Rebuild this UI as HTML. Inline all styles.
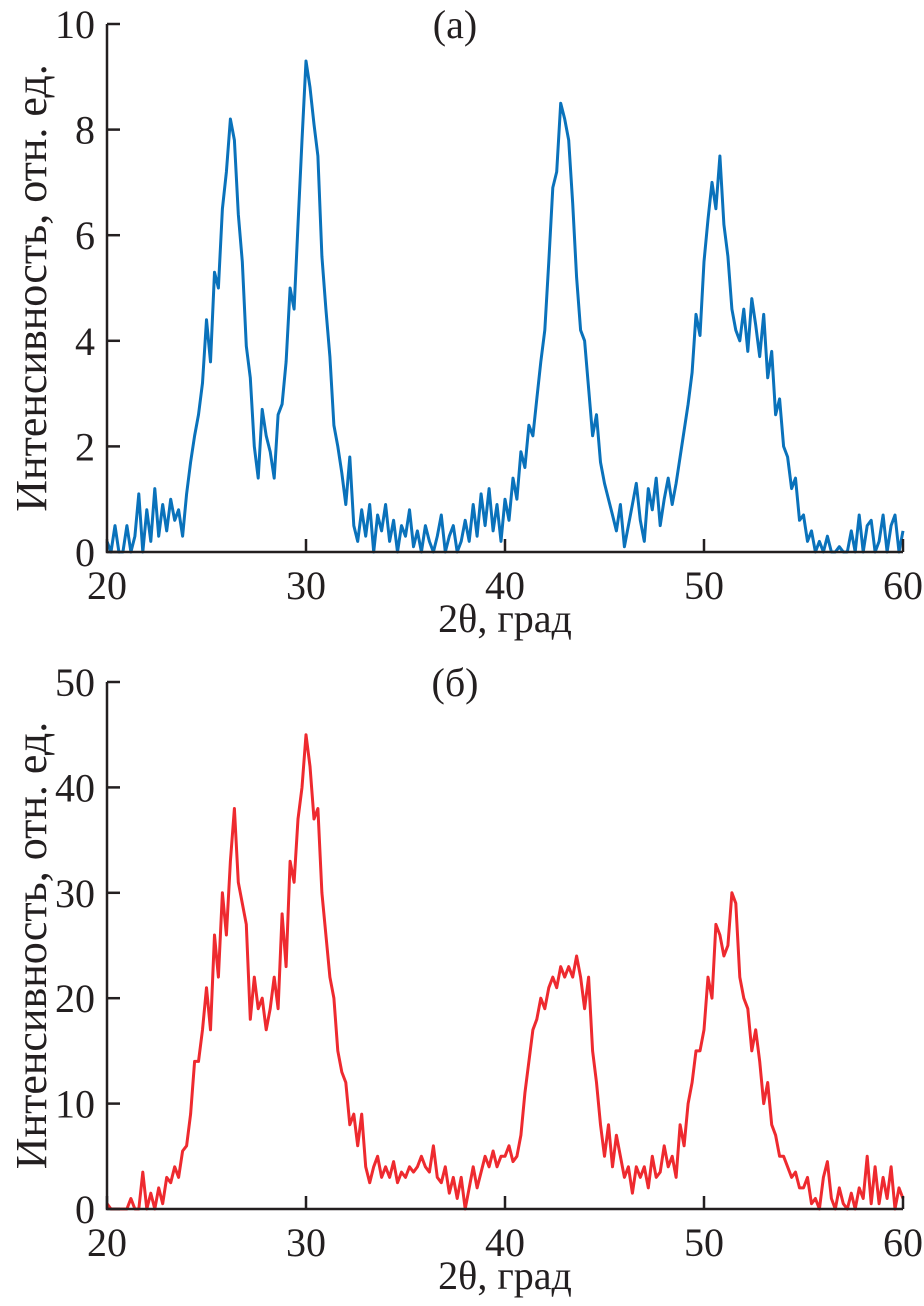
<!DOCTYPE html>
<html><head><meta charset="utf-8"><style>
html,body{margin:0;padding:0;background:#fff}
svg{display:block}
</style></head><body>
<svg id="s" width="924" height="1306" font-family="'Liberation Serif', 'DejaVu Serif', serif"></svg>
<script>
const xTicks=[20,30,40,50,60];
const yTicksA=[0,2,4,6,8,10];
const yTicksB=[0,10,20,30,40,50];
const seriesA=[0.2,0,0.5,0,0, 0.5,0,0.3,1.1,0, 0.8,0.2,1.2,0.3,0.9, 0.4,1.0,0.6,0.8,0.3, 1.1,1.7,2.2,2.6,3.2, 4.4,3.6,5.3,5.0,6.5, 7.2,8.2,7.8,6.4,5.5, 3.9,3.3,2.0,1.4,2.7, 2.2,1.9,1.4,2.6,2.8, 3.6,5.0,4.6,6.2,7.8, 9.3,8.8,8.1,7.5,5.6, 4.6,3.7,2.4,2.0,1.5, 0.9,1.8,0.5,0.2,0.8, 0.3,0.9,0,0.7,0.4, 0.9,0.2,0.6,0,0.5, 0.3,0.8,0.1,0.4,0, 0.5,0.2,0,0.3,0.7, 0,0.3,0.5,0,0.2, 0.6,0.2,0.9,0.3,1.1, 0.5,1.2,0.4,0.9,0.2, 1.0,0.6,1.4,1.0,1.9, 1.6,2.4,2.2,2.9,3.6, 4.2,5.5,6.9,7.2,8.5, 8.2,7.8,6.6,5.2,4.2, 4.0,3.1,2.2,2.6,1.7, 1.3,1.0,0.7,0.4,0.9, 0.1,0.5,0.9,1.3,0.6, 0.2,1.2,0.8,1.4,0.5, 1.0,1.4,0.9,1.3,1.8, 2.3,2.8,3.4,4.5,4.1, 5.5,6.3,7.0,6.5,7.5, 6.2,5.6,4.6,4.2,4.0, 4.6,3.8,4.8,4.3,3.7, 4.5,3.3,3.8,2.6,2.9, 2.0,1.8,1.2,1.4,0.6, 0.7,0.2,0.4,0,0.2, 0,0.3,0,0,0.1, 0,0,0.4,0,0.7, 0,0.5,0.6,0,0.2, 0.7,0,0.5,0.7,0, 0.4];
const seriesB=[0.5,0,0,0,0, 0,1,0,0,3.5, 0,1.5,0,2,0.5, 3,2.5,4,3,5.5, 6,9,14,14,17, 21,17,26,22,30, 26,33,38,31,29, 27,18,22,19,20, 17,19,22,19,28, 23,33,31,37,40, 45,42,37,38,30, 26,22,20,15,13, 12,8,9,6,9, 4,2.5,4,5,3, 4,3,4.5,2.5,3.5, 3,4,3.5,4,5, 4,3.5,6,3,2.5, 4,1.5,3,1,3, 0,2,4,2,3.5, 5,4,5.5,4,5, 5,6,4.5,5,7, 11,14,17,18,20, 19,21,22,21,23, 22,23,22,24,22, 19,22,15,12,8, 5,8,4,7,5, 3,4,1.5,4,3, 4,2,5,3,3.5, 6,4,5,3,8, 6,10,12,15,15, 17,22,20,27,26, 24,25,30,29,22, 20,19,15,17,14, 10,12,8,7,5, 5,4,3,3.5,2, 2,3,0.5,1,0, 3,4.5,1,0,2, 0.5,0,1.5,0,2, 1,5,0.5,4,0.5, 3,1,4,0,2, 1];
const xStart=20, xStep=0.2;
const NS='http://www.w3.org/2000/svg';
const svg=document.getElementById('s');
const FF="'Liberation Serif', 'DejaVu Serif', serif";
function mk(tag,attrs,parent){const e=document.createElementNS(NS,tag);for(const k in attrs)e.setAttribute(k,attrs[k]);(parent||svg).appendChild(e);return e;}
function chart(cfg){
  const g=mk('g',{});
  
  
  const x0=107,x1=903;
  const xs=v=>x0+(v-20)/40*(x1-x0);
  const ys=v=>cfg.y0-(v/cfg.ymax)*(cfg.y0-cfg.y1);
  const pts=cfg.data.map((v,i)=>xs(xStart+i*xStep).toFixed(1)+','+ys(v).toFixed(1)).join(' ');
  const line=mk('polyline',{points:pts,fill:'none',stroke:cfg.color,'stroke-width':3,'stroke-linejoin':'round'},g);
  
  
  const ax=mk('path',{d:`M${x0},${cfg.y1} V${cfg.y0} H${x1}`,fill:'none',stroke:'#231f20','stroke-width':2.5},g);
  
  
  xTicks.forEach(t=>{
    const X=xs(t);
    mk('line',{x1:X,x2:X,y1:cfg.y0,y2:cfg.y0-13,stroke:'#231f20','stroke-width':2.5},g);
    const tx=mk('text',{x:X,y:cfg.y0+47,'font-size':40,'text-anchor':'middle','font-family':FF,fill:'#231f20'},g);
    tx.textContent=t;
    
    
  });
  cfg.yt.forEach(t=>{
    const Y=ys(t);
    mk('line',{x1:x0,x2:x0+13,y1:Y,y2:Y,stroke:'#231f20','stroke-width':2.5},g);
    const tx=mk('text',{x:x0-12,y:Y+14,'font-size':40,'text-anchor':'end','font-family':FF,fill:'#231f20'},g);
    tx.textContent=t;
    
    
  });
  const xt=mk('text',{x:505,y:cfg.y0+80,'font-size':40,'text-anchor':'middle','font-family':FF,fill:'#231f20'},g);
  xt.textContent='2θ, град';
  
  
  const yc=(cfg.y0+cfg.y1)/2;
  const yt=mk('text',{x:0,y:0,'font-size':44,'text-anchor':'middle','font-family':FF,fill:'#231f20',transform:`translate(46,${yc}) rotate(-90)`},g);
  yt.textContent='Интенсивность, отн. ед.';
  
  
  const lb=mk('text',{x:455,y:cfg.y1+14,'font-size':40,'text-anchor':'middle','font-family':FF,fill:'#231f20'},g);
  lb.textContent=cfg.label;
  
  
}
chart({name:'chart-a',data:seriesA,yt:yTicksA,ymax:10,y0:552,y1:24,color:'#0a72bb',label:'(а)'});
chart({name:'chart-b',data:seriesB,yt:yTicksB,ymax:50,y0:1209,y1:682,color:'#ee2a2f',label:'(б)'});
</script>
</body></html>
